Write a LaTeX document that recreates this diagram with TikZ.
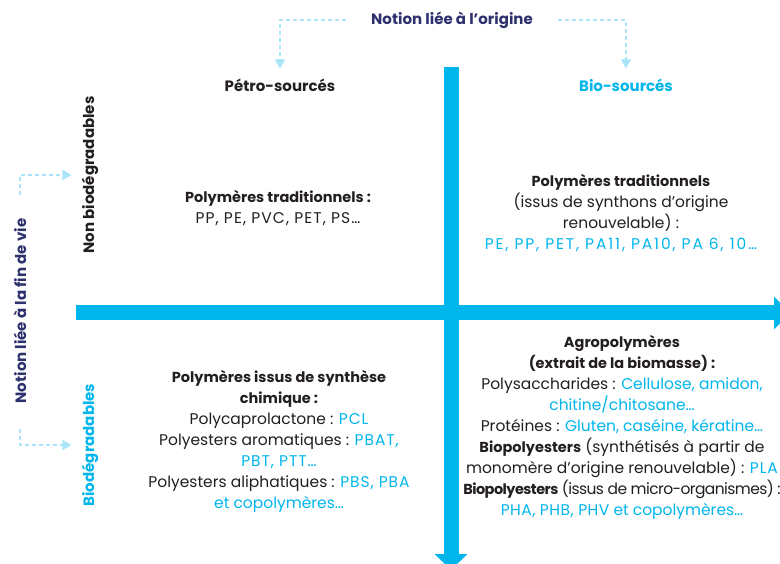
\documentclass[tikz,border=0pt]{standalone}
\usepackage{fontspec}
\setmainfont{Poppins}
\usetikzlibrary{arrows.meta}
\definecolor{cyanM}{RGB}{0,182,237}
\definecolor{dashC}{RGB}{170,228,248}
\definecolor{navyM}{RGB}{45,49,110}
\definecolor{textK}{RGB}{35,31,32}
\newcommand\hb[1]{{\fontsize{14.5}{21}\selectfont\bfseries #1}}
\newcommand\acr[2][6]{{\color{cyanM}\addfontfeatures{LetterSpace=#1}#2}}
\newcommand\cy[1]{{\color{cyanM}#1}}
\begin{document}
\begin{tikzpicture}[x=1pt,y=-1pt,
  txt/.style={font=\fontsize{15.5}{21}\selectfont, text=textK, align=center, inner sep=0pt},
  lab/.style={font=\fontsize{15}{18}\selectfont\bfseries, text=textK, inner sep=0pt},
  dashconn/.style={draw=dashC, line width=1.3pt, dash pattern=on 4pt off 3pt,
    -{Triangle[width=10pt,length=9pt,fill=dashC]}},
  bigarrow/.style={draw=cyanM, line width=15pt, -{Triangle[width=32pt,length=16pt,fill=cyanM]}}]
\useasboundingbox (0,0) rectangle (780,564);
\fill[white] (0,0) rectangle (780,564);

% axes
\coordinate (hs) at (76,313);
\coordinate (he) at (790,313);
\coordinate (vs) at (451,67);
\coordinate (ve) at (451,570);
\draw[bigarrow] (hs) -- (he);
\draw[bigarrow] (vs) -- (ve);

% axis labels
\node[lab, text=navyM] (origine) at (452,20) {Notion liée à l’origine};
\node[lab] (petro) at (280,85) {Pétro-sourcés};
\node[lab, text=cyanM] (bio) at (626,85) {Bio-sourcés};
\node[lab, rotate=90] (nondeg) at (90,175) {Non biodégradables};
\node[lab, rotate=90, text=navyM] (finvie) at (20,311) {Notion liée à la fin de vie};
\node[lab, rotate=90, text=cyanM] (biodeg) at (90,445) {Biodégradables};

% dashed connectors
\draw[dashconn] ([xshift=-25pt]origine.west) -| ([yshift=10pt]petro.north);
\draw[dashconn] ([xshift=25pt]origine.east) -| ([yshift=10pt]bio.north);
\draw[dashconn] ([yshift=23pt]finvie.east) |- ([xshift=-10pt]nondeg.north);
\draw[dashconn] ([yshift=-25pt]finvie.west) |- ([xshift=-10pt]biodeg.north);

% quadrant texts
\node[txt] (tl) at (278,208) {\hb{Polymères traditionnels :}\\{\addfontfeatures{LetterSpace=7}PP, PE, PVC, PET, PS…}};
\node[txt] (tr) at (621,213) {\hb{Polymères traditionnels}\\(issus de synthons d’origine\\renouvelable) :\\\acr[12]{PE, PP, PET, PA11, PA10, PA 6, 10…}};
\node[txt] (bl) at (279,441) {\hb{Polymères issus de synthèse}\\\hb{chimique :}\\Polycaprolactone : \acr{PCL}\\Polyesters aromatiques : \acr{PBAT,}\\\acr{PBT, PTT…}\\Polyesters aliphatiques : \acr{PBS, PBA}\\\cy{et copolymères…}};
\node[txt] (br) at (622,427) {\hb{Agropolymères}\\\hb{(extrait de la biomasse) :}\\Polysaccharides : \cy{Cellulose, amidon,}\\\cy{chitine/chitosane…}\\Protéines : \cy{Gluten, caséine, kératine…}\\\hb{Biopolyesters} (synthétisés à partir de\\monomère d’origine renouvelable) : \acr{PLA}\\{\addfontfeatures{LetterSpace=-3.8}\hb{Biopolyesters} (issus de micro-organismes) :}\\\acr[3]{PHA, PHB, PHV} \cy{et copolymères…}};
\end{tikzpicture}
\end{document}
